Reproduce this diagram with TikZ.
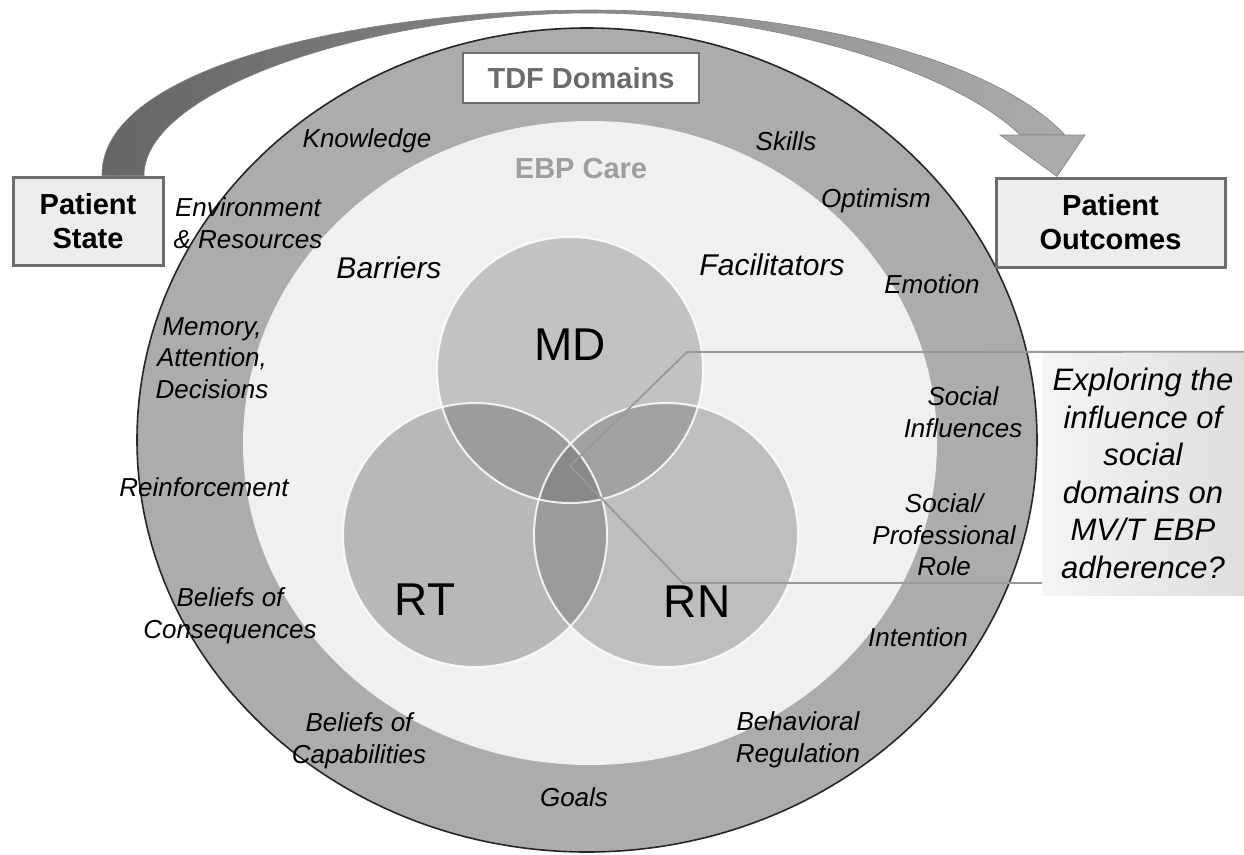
\documentclass[tikz,border=0pt]{standalone}
\usepackage{fontspec}
\setmainfont{Liberation Sans}
\usetikzlibrary{calc,backgrounds}
\definecolor{ringc}{gray}{0.675}
\definecolor{innerc}{gray}{0.94}
\definecolor{vennc}{gray}{0.40}
\definecolor{boxline}{gray}{0.43}
\definecolor{pfill}{gray}{0.93}
\definecolor{tdftext}{gray}{0.42}
\definecolor{ebptext}{gray}{0.62}
\definecolor{callline}{gray}{0.60}
\begin{document}
\begin{tikzpicture}[x=1pt,y=-1pt,
  lab/.style={font=\fontsize{26}{31.5}\selectfont\itshape, align=center, inner sep=0pt},
  biglab/.style={font=\fontsize{30}{34}\selectfont\itshape, inner sep=0pt},
  venn/.style={font=\fontsize{46}{50}\selectfont, inner sep=0pt},
  pbox/.style={draw=boxline, line width=3pt, fill=pfill, align=center, inner sep=0pt,
     font=\fontsize{29}{34}\selectfont\bfseries},
  tdfbox/.style={draw=boxline, line width=2pt, fill=white, inner sep=0pt,
     minimum width=236pt, minimum height=50pt, text=tdftext, font=\fontsize{29}{34}\selectfont\bfseries},
  calloutbox/.style={left color=black!4, right color=black!13, inner sep=0pt, align=center,
     minimum width=202pt, minimum height=243pt, font=\fontsize{31}{37.6}\selectfont\itshape},
  calline/.style={draw=callline, line width=1.8pt},
  vennfill/.style={fill=vennc},
  vennedge/.style={draw=white, line width=2pt, draw opacity=0.85}
]
\useasboundingbox (0,0) rectangle (1244,854);

% outer ring and inner area
\draw[line width=1.6pt, draw=black!85, fill=ringc] (587,440) ellipse [x radius=450pt, y radius=412pt];
\fill[innerc] (590,443) ellipse [x radius=347pt, y radius=322pt];

% Venn circles
\fill[vennfill, fill opacity=0.40] (475,535) circle [radius=132pt];
\fill[vennfill, fill opacity=0.36] (666,535) circle [radius=132pt];
\fill[vennfill, fill opacity=0.33] (570,370) circle [radius=133pt];
\draw[vennedge] (475,535) circle [radius=132pt];
\draw[vennedge] (666,535) circle [radius=132pt];
\draw[vennedge] (570,370) circle [radius=133pt];

\node[venn] (md) at (570,345) {MD};
\node[venn] (rt) at (425,600) {RT};
\node[venn] (rn) at (697,602) {RN};

% boxes and headings
\node[tdfbox] (tdf) at (581,78) {TDF Domains};
\node[font=\fontsize{29}{34}\selectfont\bfseries, text=ebptext, inner sep=0pt] (ebp) at (581,169) {EBP Care};
\node[pbox, minimum width=150pt, minimum height=88pt] (ps) at (88,221) {Patient\\State};
\node[pbox, minimum width=229pt, minimum height=89pt] (po) at (1110.5,222.5) {Patient\\Outcomes};

% ring labels
\node[lab] (kn) at (367,141) {Knowledge};
\node[lab] (sk) at (786,141) {Skills};
\node[lab] (op) at (876,201) {Optimism};
\node[lab] (env) at (248,223) {Environment\\\& Resources};
\node[lab] (emo) at (932,284) {Emotion};
\node[lab] (mem) at (212,358) {Memory,\\Attention,\\Decisions};
\node[lab] (rein) at (204,487) {Reinforcement};
\node[lab] (bcon) at (230,616) {Beliefs of\\Consequences};
\node[lab] (bcap) at (359,741) {Beliefs of\\Capabilities};
\node[lab] (goals) at (574,797) {Goals};
\node[lab] (breg) at (798,740) {Behavioral\\Regulation};
\node[lab] (int) at (918,637) {Intention};
\node[lab] (spr) at (944,535) {Social/\\Professional\\Role};
\node[lab] (sinf) at (963,412) {Social\\Influences};
\node[biglab] (bar) at (389,268) {Barriers};
\node[biglab] (fac) at (772,265) {Facilitators};

% callout
\node[calloutbox] (callout) at (1143,473.5) {Exploring the\\influence of\\social\\domains on\\MV/T EBP\\adherence?};
\coordinate (hub) at (570,466);
\draw[calline, line join=miter] (callout.north east) -- (687,352) -- (hub) -- (683,583) -- (callout.west |- 0,583);

% curved arrow from Patient State to Patient Outcomes
\coordinate (tip) at ([xshift=-53.5pt]po.north);
\begin{scope}[on background layer]
\shade[left color=black!60, right color=black!33, draw=black!50, line width=0.6pt]
  ([xshift=14pt]ps.north) .. controls (100,70) and (350,11) .. (587,10)
  .. controls (820,10) and (1000,65) .. (1065,135)
  -- (1020,135) .. controls (960,75) and (780,13) .. (587,13)
  .. controls (370,14) and (144,90) .. ([xshift=56pt]ps.north) -- cycle;
\fill[black!33, draw=black!48, line width=0.6pt] (1000,135) -- (1085,135) -- (tip) -- cycle;
\end{scope}
\end{tikzpicture}
\end{document}
